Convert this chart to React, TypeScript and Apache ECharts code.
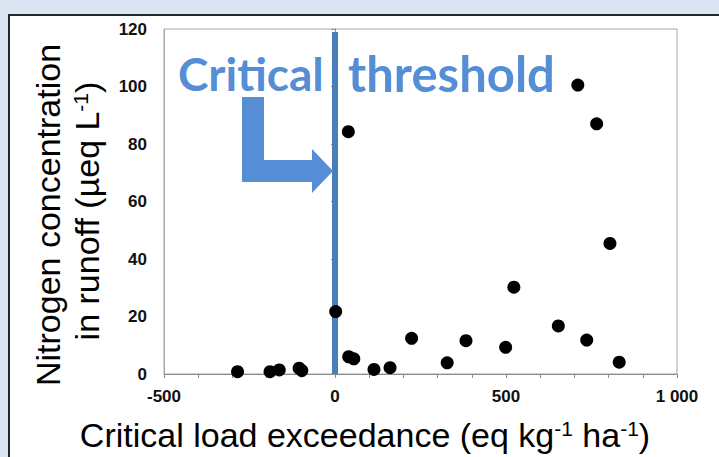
import React, { useEffect, useRef } from "react";
import * as echarts from "echarts";

const exceedance = [-285, -190, -163, -105, -97, 2, 40, 55, 39, 114, 161, 224, 328, 383, 499, 523, 653, 710, 736, 765, 804, 831];
const nitrogen = [0.8, 0.8, 1.4, 2.0, 1.2, 21.7, 6.0, 5.3, 84.3, 1.6, 2.2, 12.4, 3.9, 11.6, 9.3, 30.2, 16.7, 100.5, 11.8, 87.0, 45.4, 4.1];
const thresholdX = [0, 0];
const thresholdY = [0, 119];
const xLabelText: Record<number, string> = { [-500]: "-500", 0: "0", 500: "500", 1000: "1 000" };

const ARIAL = "'Liberation Sans', Arial, sans-serif";

export default function App() {
  const ref = useRef<HTMLDivElement>(null);
  useEffect(() => {
    if (!ref.current) return;
    const chart = echarts.init(ref.current, undefined, { renderer: "svg" });
    const points = exceedance.map((x, i) => [x, nitrogen[i]]);
    const thr = thresholdX.map((x, i) => [x, thresholdY[i]]);
    const titleRich = {
      n: { fontSize: 34, fontFamily: ARIAL, fill: "#000" },
      s: { fontSize: 21, fontFamily: ARIAL, fill: "#000", verticalAlign: "top" },
    };
    chart.setOption({
      animation: false,
      backgroundColor: "transparent",
      grid: { left: 164, top: 29, right: 42, bottom: 83, show: true, borderColor: "#a6a6a6", borderWidth: 1, backgroundColor: "transparent" },
      xAxis: {
        type: "value",
        min: -500,
        max: 1000,
        interval: 100,
        axisLine: { show: true, onZero: false, lineStyle: { color: "#8c8c8c", width: 1 } },
        axisTick: { show: true, length: 4, lineStyle: { color: "#8c8c8c" } },
        splitLine: { show: false },
        axisLabel: {
          margin: 14,
          fontFamily: ARIAL,
          fontWeight: "bold",
          fontSize: 17,
          color: "#111",
          formatter: (v: number) => xLabelText[v] ?? "",
        },
      },
      yAxis: [
        {
          type: "value",
          min: 0,
          max: 120,
          interval: 20,
          axisLine: { show: true, onZero: false, lineStyle: { color: "#a6a6a6" } },
          axisTick: { show: false },
          splitLine: { show: false },
          axisLabel: { margin: 17, fontFamily: ARIAL, fontWeight: "bold", fontSize: 17, color: "#111" },
        },
        {
          type: "value",
          min: 0,
          max: 120,
          interval: 20,
          position: "left",
          axisLine: { show: true, onZero: true, lineStyle: { color: "#8c8c8c" } },
          axisTick: { show: true, length: 4, lineStyle: { color: "#8c8c8c" } },
          splitLine: { show: false },
          axisLabel: { show: false },
        },
      ],
      series: [
        {
          type: "line",
          data: thr,
          yAxisIndex: 0,
          symbol: "none",
          lineStyle: { color: "#4a7ebb", width: 6 },
          z: 1,
          silent: true,
        },
        {
          type: "scatter",
          data: points,
          yAxisIndex: 0,
          symbol: "circle",
          symbolSize: 13,
          itemStyle: { color: "#000", opacity: 1 },
          z: 3,
        },
      ],
      graphic: [
        {
          type: "polygon",
          shape: {
            points: [
              [242, 97], [264, 97], [264, 160], [312, 160], [312, 149], [333, 171],
              [312, 193], [312, 182], [242, 182],
            ],
          },
          style: { fill: "#558ed5" },
          z: 5,
        },
        {
          type: "text",
          x: 178,
          y: 73,
          style: { text: "Critical", font: "bold 46px Lato", fill: "#558ed5", textAlign: "left", textVerticalAlign: "middle" },
          z: 5,
        },
        {
          type: "text",
          x: 348,
          y: 73,
          style: { text: "threshold", font: "bold 49px Lato", fill: "#558ed5", textAlign: "left", textVerticalAlign: "middle" },
          z: 5,
        },
        {
          type: "text",
          x: 48,
          y: 215,
          rotation: Math.PI / 2,
          style: { text: "Nitrogen concentration", font: `34px ${ARIAL}`, fill: "#000", textAlign: "center", textVerticalAlign: "middle" },
        },
        {
          type: "text",
          x: 87,
          y: 211,
          rotation: Math.PI / 2,
          style: {
            text: "{n|in runoff (µeq L}{s|-1}{n|)}",
            rich: titleRich,
            textAlign: "center",
            textVerticalAlign: "middle",
          },
        },
        {
          type: "text",
          x: 365,
          y: 435,
          style: {
            text: "{n|Critical load exceedance (eq kg}{s|-1}{n| ha}{s|-1}{n|)}",
            rich: titleRich,
            textAlign: "center",
            textVerticalAlign: "middle",
          },
        },
      ],
    });
    return () => chart.dispose();
  }, []);
  return (
    <div style={{ position: "fixed", left: 0, top: 0, width: 719, height: 457, background: "#dbe5f1", overflow: "hidden" }}>
      <div style={{ position: "absolute", left: 8, top: 14, width: 740, height: 470, background: "#fff", border: "2px solid #262626", boxSizing: "border-box" }} />
      <div ref={ref} style={{ position: "absolute", left: 0, top: 0, width: 719, height: 457 }} />
    </div>
  );
}
